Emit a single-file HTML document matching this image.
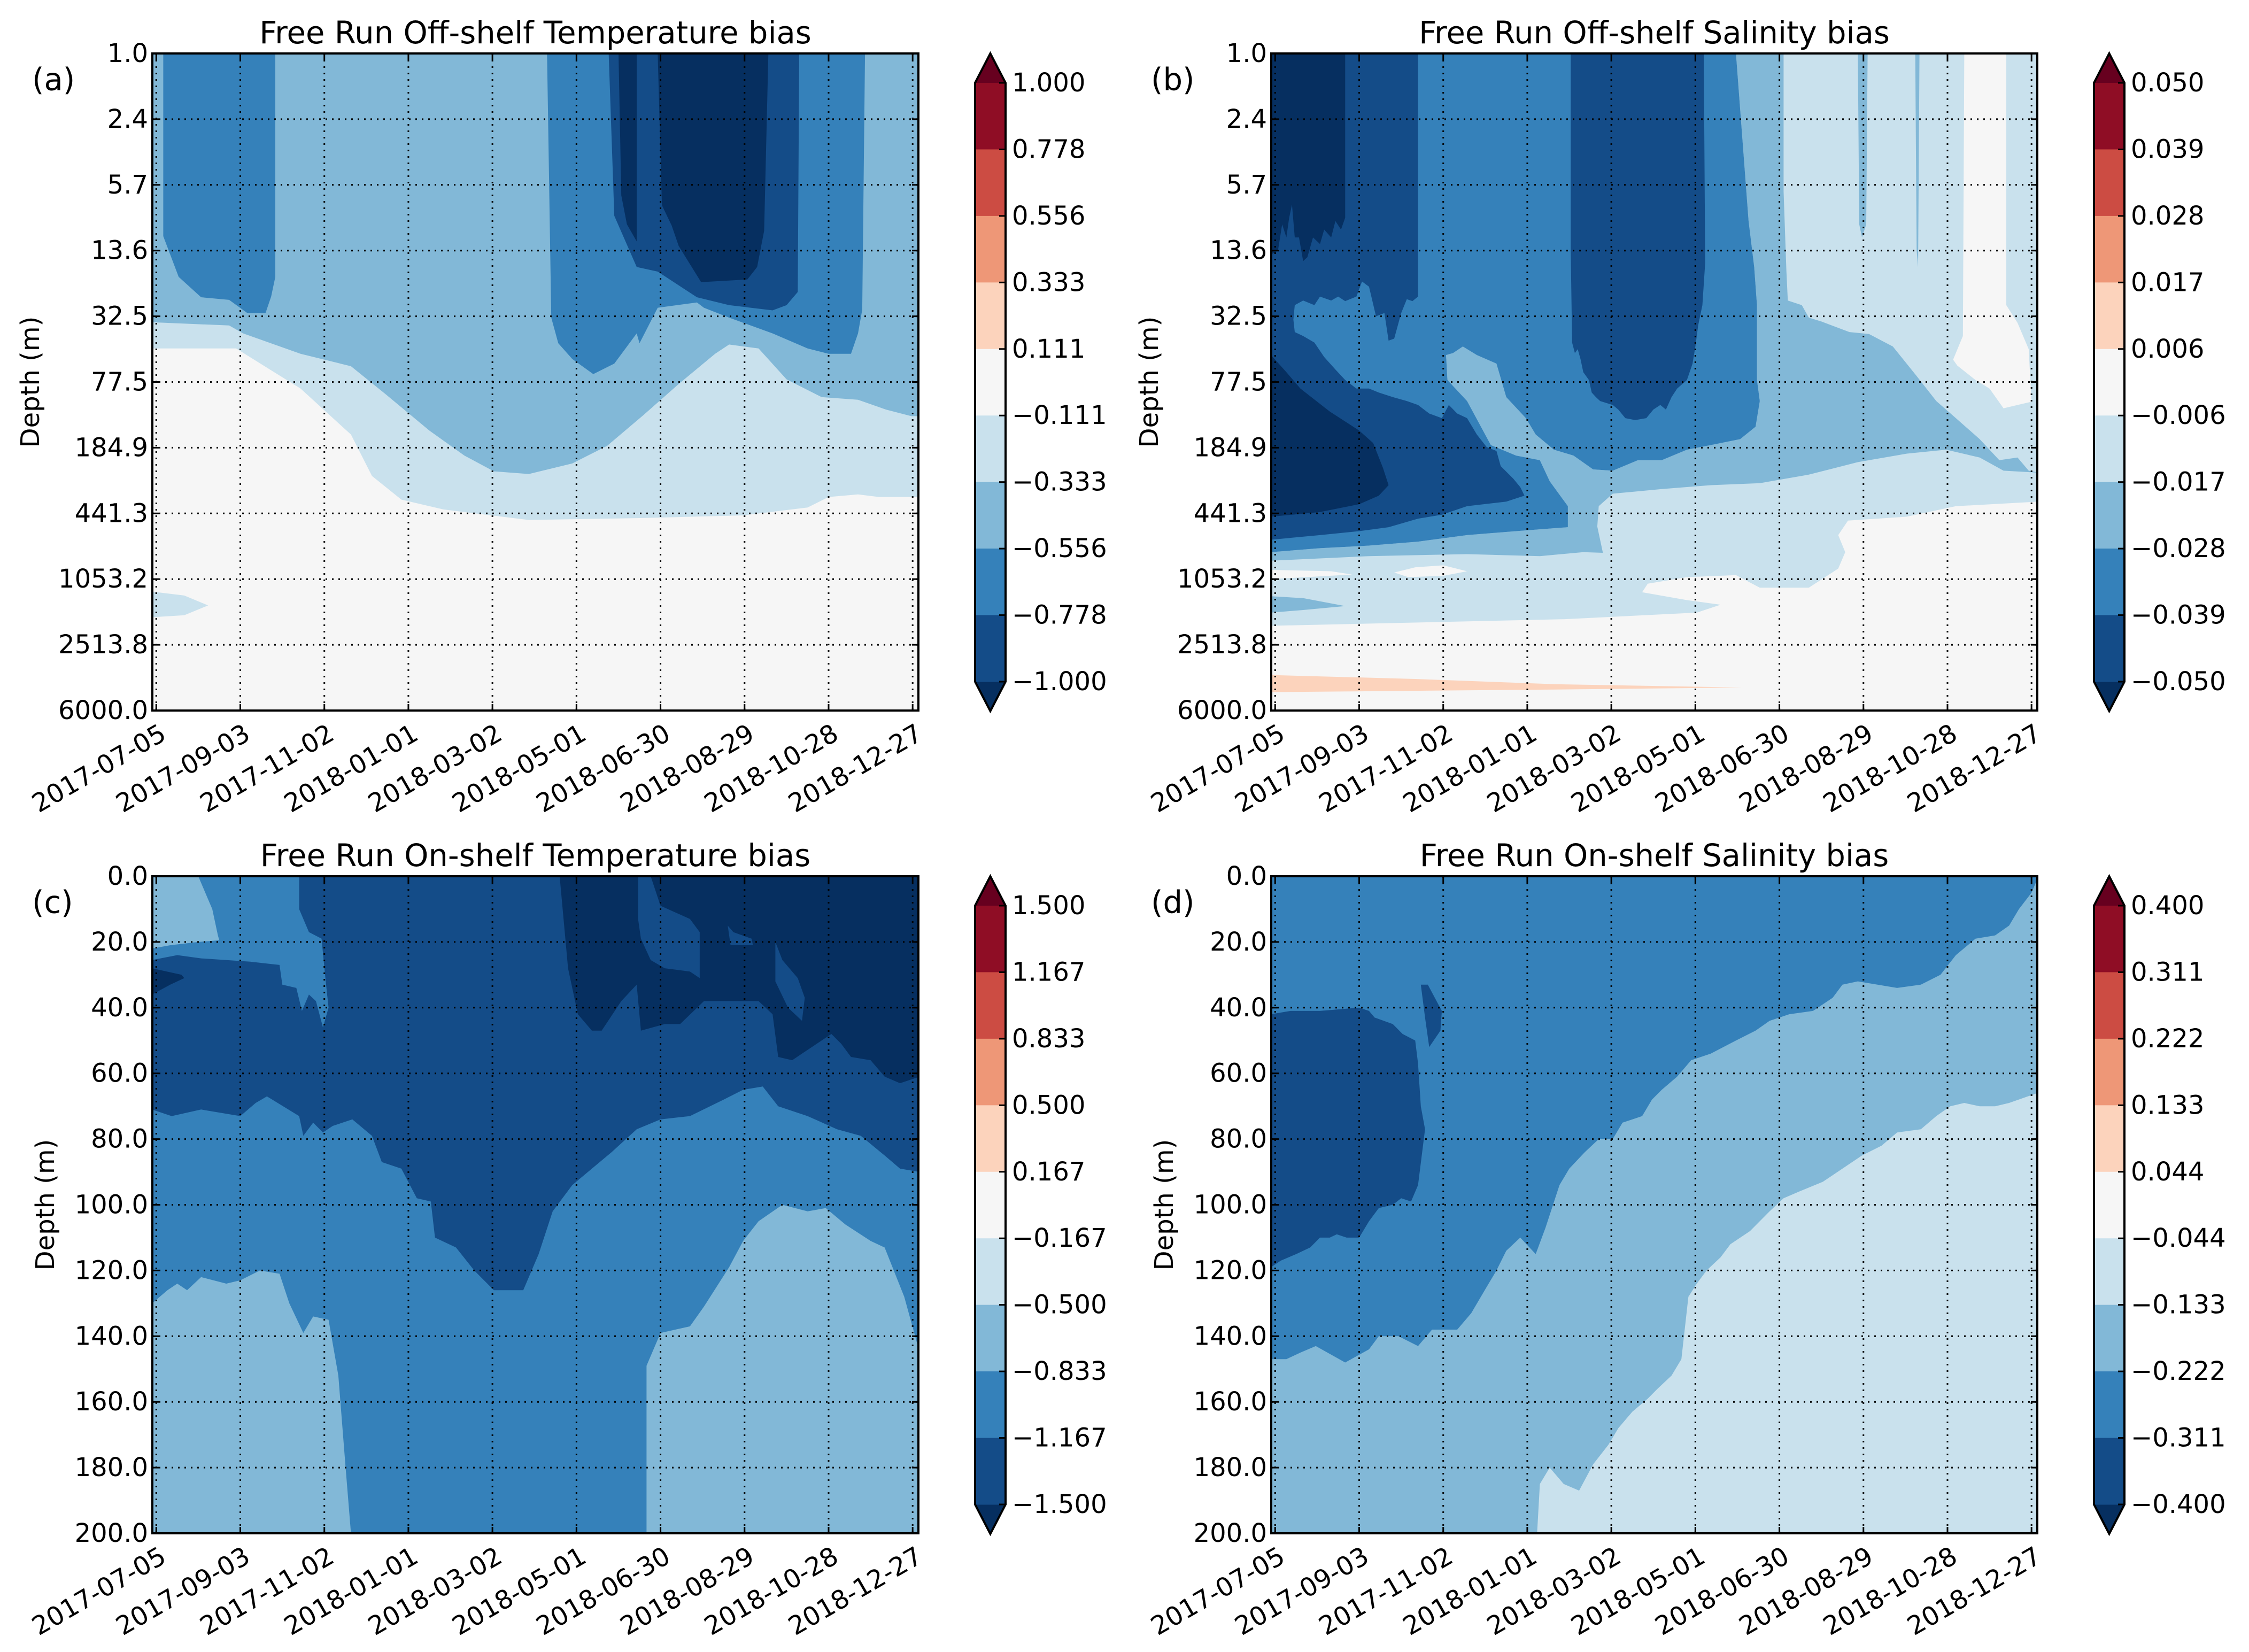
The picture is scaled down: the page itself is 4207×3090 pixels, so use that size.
<!DOCTYPE html>
<html><head><meta charset="utf-8"><title>Free Run bias</title>
<style>html,body{margin:0;padding:0;background:#fff;}svg{display:block;font-family:"DejaVu Sans","Liberation Sans",sans-serif;}</style>
</head><body>
<svg id="fig" xmlns="http://www.w3.org/2000/svg" width="4207" height="3090" viewBox="0 0 4207 3090">
<rect x="0" y="0" width="4207" height="3090" fill="#ffffff"/>
</svg>
<script>
// ---------- shared axis data ----------
const dayTicks = [0,60,120,180,240,300,360,420,480,540];
const dateLabels = ["2017-07-05","2017-09-03","2017-11-02","2018-01-01","2018-03-02","2018-05-01","2018-06-30","2018-08-29","2018-10-28","2018-12-27"];
const offDepthLabels = ["1.0","2.4","5.7","13.6","32.5","77.5","184.9","441.3","1053.2","2513.8","6000.0"];
const onDepthTicks = [0,20,40,60,80,100,120,140,160,180,200];
const onDepthLabels = ["0.0","20.0","40.0","60.0","80.0","100.0","120.0","140.0","160.0","180.0","200.0"];
const cbA = ["1.000","0.778","0.556","0.333","0.111","\u22120.111","\u22120.333","\u22120.556","\u22120.778","\u22121.000"];
const cbB = ["0.050","0.039","0.028","0.017","0.006","\u22120.006","\u22120.017","\u22120.028","\u22120.039","\u22120.050"];
const cbC = ["1.500","1.167","0.833","0.500","0.167","\u22120.167","\u22120.500","\u22120.833","\u22121.167","\u22121.500"];
const cbD = ["0.400","0.311","0.222","0.133","0.044","\u22120.044","\u22120.133","\u22120.222","\u22120.311","\u22120.400"];

// ---------- panel (a): [day, log-depth index 0..10] ----------
const aLight = [[-3,0],[545,0],[545,6.75],[516,6.75],[501,6.71],[480,6.75],[465,6.91],[419,7.03],[348,7.07],[266,7.1],[205,6.94],[175,6.79],[154,6.43],[139,5.8],[103,5.1],[57,4.49],[-3,4.49]];
const aBlob = [[-3,8.19],[20,8.25],[37,8.4],[20,8.55],[-3,8.58]];
const aMid = [[-3,0],[545,0],[545,5.52],[539,5.52],[521,5.42],[501,5.27],[475,5.23],[450,4.96],[430,4.49],[409,4.43],[399,4.57],[373,5.03],[348,5.5],[322,5.97],[297,6.24],[266,6.4],[241,6.36],[220,6.12],[195,5.74],[164,5.19],[139,4.76],[103,4.57],[62,4.26],[52,4.14],[-3,4.09]];
const aDeepA = [[5,0],[85,0],[85,3.4],[82,3.7],[78,3.95],[65,3.95],[52,3.75],[32,3.71],[16,3.4],[5,2.78]];
const aDeepB = [[279,0],[506,0],[504,3.9],[501,4.26],[496,4.57],[480,4.57],[465,4.49],[440,4.26],[409,4.02],[391,3.87],[386,3.79],[358,3.87],[345,4.41],[343,4.26],[327,4.72],[312,4.88],[297,4.65],[287,4.41],[282,4.02]];
const aDark = [[323,0],[459,0],[458,3.63],[450,3.83],[440,3.91],[409,3.83],[386,3.71],[358,3.32],[343,3.25],[327,2.47]];
const aUnder1 = [[330,0],[343,0],[343,2.86],[336,2.6],[332,2.16]];
const aUnder2 = [[358,0],[437,0],[434,2.7],[429,3.25],[422,3.44],[389,3.48],[373,2.93],[368,2.62],[361,2.31]];

// ---------- panel (b) ----------
const bLight = [[-3,0],[545,0],[545,6.82],[486,6.89],[451,7.05],[409,7.11],[402,7.33],[407,7.59],[402,7.84],[381,8.13],[346,8.13],[329,7.94],[294,7.97],[266,8.07],[262,8.2],[294,8.32],[318,8.39],[301,8.51],[206,8.61],[-3,8.71]];
const bWhite1 = [[492,0],[522,0],[522,3.83],[530,4.1],[538,4.5],[540,5.3],[530,5.35],[520,5.4],[510,5.1],[500,4.97],[487,4.75],[484,4.66],[491,4.3]];
const bWhite2 = [[-3,7.86],[40,7.88],[55,7.93],[-3,8.0]];
const bWhite3 = [[85,7.9],[100,7.82],[120,7.79],[137,7.88],[120,7.95],[95,7.97]];
const bMid = [[329,0],[363,0],[363,2.1],[365,3.32],[366,3.76],[376,3.83],[381,4.02],[390,4.08],[410,4.24],[424,4.27],[441,4.46],[458,4.91],[472,5.29],[486,5.55],[503,5.87],[517,6.19],[530,6.15],[538,6.35],[545,6.38],[520,6.35],[503,6.15],[479,6.03],[451,6.09],[416,6.22],[381,6.41],[346,6.54],[311,6.57],[276,6.63],[241,6.7],[231,6.89],[230,7.2],[234,7.6],[220,7.59],[189,7.65],[137,7.62],[67,7.65],[-3,7.72],[-3,7.59],[32,7.53],[67,7.49],[102,7.43],[137,7.33],[172,7.27],[209,7.21],[209,6.89],[196,6.51],[189,6.19],[172,6.12],[154,5.96],[137,5.29],[123,4.97],[122,4.59],[127,4.56],[134,4.46],[144,4.59],[158,4.72],[165,5.23],[179,5.55],[186,5.8],[199,6.03],[213,6.12],[227,6.33],[241,6.35],[259,6.19],[276,6.19],[294,6.03],[311,5.96],[332,5.87],[343,5.68],[346,5.29],[344,4.97],[344,3.83],[342,3.25],[338,2.55]];
const bSpike1 = [[416,0],[423,0],[422,2.6],[419,2.8],[417,2.6]];
const bSpike2 = [[457,0],[460,0],[459,3.25],[458,3.0]];
const bTongue = [[-3,8.26],[20,8.29],[50,8.41],[20,8.47],[-3,8.51]];
const bDeep = [[-3,0],[329,0],[338,2.55],[342,3.25],[344,3.83],[344,4.97],[346,5.29],[343,5.68],[332,5.87],[311,5.96],[294,6.03],[276,6.19],[259,6.19],[241,6.35],[227,6.33],[213,6.12],[199,6.03],[186,5.8],[179,5.55],[165,5.23],[158,4.72],[144,4.59],[134,4.46],[127,4.56],[122,4.59],[123,4.97],[137,5.29],[154,5.96],[172,6.12],[189,6.19],[196,6.51],[209,6.89],[209,7.21],[172,7.27],[137,7.33],[102,7.43],[67,7.49],[32,7.53],[-3,7.59]];
const bDarkLeft = [[-3,0],[102,0],[102,3.7],[98,3.77],[94,3.74],[90,3.95],[85,4.34],[81,4.37],[78,3.95],[72,4.0],[67,3.55],[62,3.47],[58,3.7],[50,3.77],[45,3.7],[40,3.76],[32,3.7],[28,3.83],[20,3.76],[14,3.83],[13,4.05],[14,4.24],[20,4.3],[28,4.4],[35,4.62],[43,4.81],[50,4.97],[58,5.1],[67,5.1],[74,5.16],[84,5.23],[94,5.29],[102,5.35],[110,5.48],[119,5.55],[124,5.35],[130,5.48],[137,5.55],[144,5.8],[151,5.99],[158,6.05],[161,6.28],[170,6.47],[175,6.6],[178,6.73],[165,6.82],[137,6.89],[119,7.02],[102,7.08],[81,7.21],[60,7.27],[32,7.33],[-3,7.4]];
const bDarkCol = [[211,0],[306,0],[307,3.19],[305,3.83],[302,4.14],[300,4.46],[298,4.72],[294,4.97],[287,5.1],[283,5.23],[279,5.42],[275,5.35],[270,5.42],[265,5.55],[257,5.58],[250,5.55],[245,5.42],[241,5.35],[232,5.29],[229,5.23],[226,5.16],[224,4.97],[220,4.85],[218,4.65],[216,4.5],[214,4.56],[212,4.4],[211,3.0]];
const bUnderTop = [[-3,0],[50,0],[50,2.5],[47,2.68],[43,2.55],[40,2.8],[35,2.68],[32,2.9],[27,2.8],[23,3.1],[20,3.16],[17,2.8],[14,2.8],[12,2.3],[10,2.5],[8,2.8],[5,2.6],[2,3.0],[-3,3.06]];
const bUnderLow = [[-3,4.59],[8,4.85],[18,5.1],[39,5.45],[60,5.74],[70,5.93],[77,6.31],[81,6.57],[74,6.73],[60,6.86],[32,6.98],[-3,7.05]];
const bWarm = [[-3,9.46],[100,9.52],[200,9.6],[333,9.65],[200,9.68],[100,9.7],[-3,9.72]];

// ---------- panel (c): [day, depth m] ----------
const cMid = [[30,0],[545,0],[545,145],[534,128],[520,113],[510,111],[492,106],[478,101],[465,102],[447,100],[430,105],[419,111],[409,119],[391,131],[381,137],[360,139],[350,149],[350,200],[139,200],[135,179],[130,152],[123,135],[112,134],[105,139],[95,130],[88,121],[74,120],[60,123],[50,124],[32,122],[22,126],[15,124],[8,126],[-3,130],[-3,22],[10,21],[30,20],[45,19.5],[44,18],[40,10],[35,5]];
const cDark = [[102,0],[545,0],[545,90],[531,89],[520,85],[503,79],[486,77],[465,73],[444,70],[433,64],[419,65],[405,68],[381,73],[360,74],[343,77],[325,84],[311,89],[297,94],[283,102],[273,115],[262,126],[241,126],[227,120],[214,113],[199,110],[196,99],[186,98],[175,89],[161,87],[154,79],[140,74],[126,76],[119,78],[112,75],[105,79],[102,73],[79,67],[71,69],[60,73],[32,71],[11,73],[-3,71],[-3,25.5],[15,24],[32,25],[50,25.5],[67,26],[88,27],[90,33],[100,34],[104,41],[109,36],[114,38],[119,46],[123,40],[121,32],[118,19],[109,17],[102,10]];
const cUnderLeft = [[-3,28],[18,30],[20,31],[10,33],[-3,36]];
const cUnder = [[288,0],[545,0],[545,61],[531,63],[520,61],[510,56],[496,55],[489,51],[482,48],[461,54],[454,56],[444,55],[440,42],[430,38],[402,38],[391,38],[374,45],[363,45],[346,47],[343,33],[332,38],[318,47],[311,47],[301,42],[294,28]];
const cPatch1 = [[344,0],[353,0],[360,9],[381,13],[388,17],[388,31],[381,29],[363,28],[353,25.5],[346,19],[344,13]];
const cPatch2 = [[442,20],[447,25.5],[458,31],[463,37],[461,44],[451,40],[442,32]];
const cPatch3 = [[408,15],[412,17],[425,19],[426,21],[410,21]];

// ---------- panel (d) ----------
const dMid = [[-3,0],[545,0],[544,66],[524,69],[514,70],[503,70],[492,69],[482,70],[472,73],[461,77],[444,78],[433,82],[419,85],[405,89],[391,93],[374,96],[363,98],[353,102],[339,108],[325,112],[318,116],[308,120],[301,124],[295,128],[290,147],[283,152],[273,156],[266,159],[255,163],[245,168],[238,173],[227,179],[217,187],[206,185],[196,180],[189,185],[187,200],[-3,200]];
const dDeep = [[-3,0],[545,0],[544,1],[540,5],[531,10],[524,15],[514,18],[500,19],[486,24],[475,30],[461,33],[444,34],[430,33],[416,32],[405,33],[398,37],[384,41],[367,42],[353,44],[343,47],[329,50],[311,54],[297,56],[287,61],[276,65],[269,68],[262,73],[248,75],[241,80],[231,80],[221,84],[210,89],[203,94],[193,107],[186,115],[175,110],[165,114],[158,120],[151,125],[140,133],[130,138],[112,138],[102,143],[88,140],[74,140],[67,144],[50,148],[29,143],[18,145],[8,147],[-3,147]];
const dDark = [[-3,42],[11,41],[32,41],[60,40],[67,41],[71,43],[84,45],[91,48],[100,50],[102,57],[104,70],[107,77],[102,94],[97,99],[90,98],[84,100],[74,101],[67,105],[60,110],[51,110],[44,109],[39,110],[32,110],[25,113],[15,115],[4,117],[-3,119]];
const dSpike = [[104,33],[109,33],[114,37],[119,41],[118,47],[110,52],[107,43]];

// ---------- rendering ----------
const palette = ["#062f60","#144c88","#3581ba","#82b8d7","#c9e1ed","#f6f6f6","#fcd3bc","#ee9777","#cc4c43","#8f0d25","#67001f"];
const NS = 'http://www.w3.org/2000/svg';
const svg = document.getElementById('fig');
function mk(tag, attrs, parent){
  const e = document.createElementNS(NS, tag);
  for (const k in attrs) e.setAttribute(k, attrs[k]);
  (parent || svg).appendChild(e);
  return e;
}
const W = 1433, H = 1229, TL = 12;
const DAY0 = -8 * 0.3488, DAY1 = 1560 * 0.3488;

function drawPanel(p){
  const L = p.L, T = p.T, B = T + H, R = L + W;
  const xs = d => L + (d - DAY0) / (DAY1 - DAY0) * W;
  const ys = v => T + (v - p.yMin) / (p.yMax - p.yMin) * H;
  const g = mk('g', {});
  
  
  const cp = mk('clipPath', {id: 'clip-' + p.id}, g);
  mk('rect', {x: L, y: T, width: W, height: H}, cp);
  const plot = mk('g', {'clip-path': 'url(#clip-' + p.id + ')'}, g);
  
  
  const bg = mk('rect', {x: L, y: T, width: W, height: H, fill: palette[p.bg]}, plot);
  
  
  p.regions.forEach((r, i) => {
    const pts = r[0].map(q => xs(q[0]).toFixed(1) + ',' + ys(q[1]).toFixed(1)).join(' ');
    const poly = mk('polygon', {points: pts, fill: palette[r[1]]}, plot);
    
    
  });
  // grid
  dayTicks.forEach(d => {
    const ln = mk('line', {x1: xs(d), x2: xs(d), y1: T, y2: B, stroke: '#000', 'stroke-width': 3, 'stroke-dasharray': '3 9'}, g);
    
    
  });
  p.yTicks.forEach(v => {
    const ln = mk('line', {x1: L, x2: R, y1: ys(v), y2: ys(v), stroke: '#000', 'stroke-width': 3, 'stroke-dasharray': '3 9'}, g);
    
    
  });
  // ticks
  dayTicks.forEach((d, i) => {
    const x = xs(d);
    mk('line', {x1: x, x2: x, y1: B, y2: B - TL, stroke: '#000', 'stroke-width': 3}, g);
    mk('line', {x1: x, x2: x, y1: T, y2: T + TL, stroke: '#000', 'stroke-width': 3}, g);
    const t = mk('text', {x: x + 4, y: B + 22, 'font-size': 48, 'text-anchor': 'end', 'dominant-baseline': 'hanging', transform: 'rotate(-30 ' + (x + 4) + ' ' + (B + 22) + ')'}, g);
    t.textContent = dateLabels[i];
    
    
  });
  p.yTicks.forEach((v, i) => {
    const y = ys(v);
    mk('line', {x1: L, x2: L + TL, y1: y, y2: y, stroke: '#000', 'stroke-width': 3}, g);
    mk('line', {x1: R, x2: R - TL, y1: y, y2: y, stroke: '#000', 'stroke-width': 3}, g);
    const t = mk('text', {x: L - 8, y: y, 'font-size': 48, 'text-anchor': 'end', 'dominant-baseline': 'central'}, g);
    t.textContent = p.yLabels[i];
    
    
  });
  const frame = mk('rect', {x: L, y: T, width: W, height: H, fill: 'none', stroke: '#000', 'stroke-width': 4}, g);
  
  
  const title = mk('text', {x: L + W / 2, y: T - 19, 'font-size': 57.6, 'text-anchor': 'middle'}, g);
  title.textContent = p.title;
  
  
  const lab = mk('text', {x: L - 225, y: T + 26, 'font-size': 57.6, 'dominant-baseline': 'hanging'}, g);
  lab.textContent = p.label;
  
  
  const yl = mk('text', {x: L - p.ylOff, y: T + H / 2, 'font-size': 48, 'text-anchor': 'middle', 'dominant-baseline': 'central', transform: 'rotate(-90 ' + (L - p.ylOff) + ' ' + (T + H / 2) + ')'}, g);
  yl.textContent = 'Depth (m)';
  
  
  // colorbar
  const cb = mk('g', {}, g);
  
  
  const cx = L + 1539, cw = 57, ct = T + 55, cbt = T + 1175, bh = (cbt - ct) / 9;
  mk('polygon', {points: cx + ',' + ct + ' ' + (cx + cw / 2) + ',' + T + ' ' + (cx + cw) + ',' + ct, fill: palette[10]}, cb);
  mk('polygon', {points: cx + ',' + cbt + ' ' + (cx + cw / 2) + ',' + (T + 1230) + ' ' + (cx + cw) + ',' + cbt, fill: palette[0]}, cb);
  for (let i = 0; i < 9; i++) {
    const r = mk('rect', {x: cx, y: ct + i * bh, width: cw, height: bh + 0.5, fill: palette[9 - i]}, cb);
    
    
  }
  mk('polygon', {points: cx + ',' + ct + ' ' + (cx + cw / 2) + ',' + T + ' ' + (cx + cw) + ',' + ct + ' ' + (cx + cw) + ',' + cbt + ' ' + (cx + cw / 2) + ',' + (T + 1230) + ' ' + cx + ',' + cbt, fill: 'none', stroke: '#000', 'stroke-width': 4}, cb);
  p.cb.forEach((s, i) => {
    const y = ct + i * bh;
    mk('line', {x1: cx + cw, x2: cx + cw - TL, y1: y, y2: y, stroke: '#000', 'stroke-width': 3}, cb);
    const t = mk('text', {x: cx + cw + 12, y: y, 'font-size': 48, 'dominant-baseline': 'central'}, cb);
    t.textContent = s;
    
    
  });
}

drawPanel({id: 'a', L: 285, T: 100, yMin: 0, yMax: 10, yTicks: [0,1,2,3,4,5,6,7,8,9,10], yLabels: offDepthLabels, ylOff: 228,
  title: 'Free Run Off-shelf Temperature bias', label: '(a)', cb: cbA, bg: 5,
  regions: [[aLight,4],[aBlob,4],[aMid,3],[aDeepA,2],[aDeepB,2],[aDark,1],[aUnder1,0],[aUnder2,0]]});
drawPanel({id: 'b', L: 2378, T: 100, yMin: 0, yMax: 10, yTicks: [0,1,2,3,4,5,6,7,8,9,10], yLabels: offDepthLabels, ylOff: 228,
  title: 'Free Run Off-shelf Salinity bias', label: '(b)', cb: cbB, bg: 5,
  regions: [[bLight,4],[bWhite1,5],[bWhite2,5],[bWhite3,5],[bMid,3],[bSpike1,3],[bSpike2,3],[bTongue,3],[bDeep,2],[bDarkLeft,1],[bDarkCol,1],[bUnderTop,0],[bUnderLow,0],[bWarm,6]]});
drawPanel({id: 'c', L: 285, T: 1639, yMin: 0, yMax: 200, yTicks: onDepthTicks, yLabels: onDepthLabels, ylOff: 200,
  title: 'Free Run On-shelf Temperature bias', label: '(c)', cb: cbC, bg: 3,
  regions: [[cMid,2],[cDark,1],[cUnderLeft,0],[cUnder,0],[cPatch1,1],[cPatch2,1],[cPatch3,1]]});
drawPanel({id: 'd', L: 2378, T: 1639, yMin: 0, yMax: 200, yTicks: onDepthTicks, yLabels: onDepthLabels, ylOff: 200,
  title: 'Free Run On-shelf Salinity bias', label: '(d)', cb: cbD, bg: 4,
  regions: [[dMid,3],[dDeep,2],[dDark,1],[dSpike,1]]});
</script>
</body></html>
